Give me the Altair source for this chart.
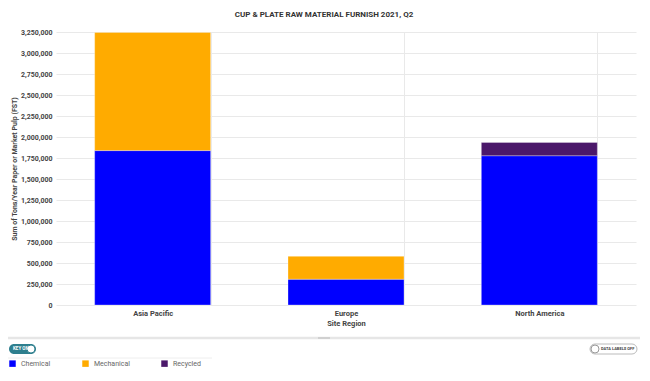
import altair as alt
import pandas as pd

regions = ["Asia Pacific", "Europe", "North America"]
chemical = [1838000, 307000, 1777000]
mechanical = [1407000, 272000, 0]
recycled = [0, 0, 158000]
furnish_types = ["Chemical", "Mechanical", "Recycled"]
furnish_colors = ["#0000FF", "#FFAB00", "#4B186A"]
y_ticks = list(range(0, 3250001, 250000))

rows = []
for i, r in enumerate(regions):
    for t, vals in zip(furnish_types, [chemical, mechanical, recycled]):
        if vals[i] > 0:
            rows.append({"Region": r, "Furnish": t, "Tons": vals[i]})
df = pd.DataFrame(rows)

W, H = 580, 273
LEFT, TOP, RIGHT = 48, 24, 4
TOTAL_W, TOTAL_H = 632, 362

bars = alt.Chart(df).mark_bar(stroke="#ffffff", strokeWidth=0.5, strokeOpacity=0.6).encode(
    x=alt.X("Region:N", sort=regions,
            scale=alt.Scale(paddingInner=0.4, paddingOuter=0.2),
            axis=alt.Axis(title="Site Region", labelAngle=0, grid=True, tickBand="extent",
                          domain=False, ticks=False, labelPadding=4, titlePadding=3)),
    y=alt.Y("Tons:Q", stack="zero",
            scale=alt.Scale(domain=[0, 3250000], nice=False),
            axis=alt.Axis(title="Sum of Tons/Year Paper or Market Pulp (FST)", values=y_ticks,
                          format=",.0f", domain=False, ticks=False, labelPadding=4, titlePadding=3)),
    color=alt.Color("Furnish:N", sort=furnish_types,
                    scale=alt.Scale(domain=furnish_types, range=furnish_colors),
                    legend=alt.Legend(title=None, orient="none", legendX=-LEFT + 1, legendY=328,
                                      direction="horizontal", symbolType="square", symbolSize=42,
                                      symbolStrokeWidth=0, labelFontSize=7, labelColor="#666666",
                                      labelFont="Roboto", columnPadding=31, labelOffset=5)),
    order=alt.Order("Furnish:N", sort="ascending"),
)

one = pd.DataFrame({"a": [0]})
base = alt.Chart(one)

separator = base.mark_rule(color="#e6e6e6", strokeWidth=2.5).encode(
    x=alt.value(-LEFT), x2=alt.value(TOTAL_W - LEFT), y=alt.value(306))
handle = base.mark_rule(color="#d0d0d0", strokeWidth=2).encode(
    x=alt.value(TOTAL_W / 2 - LEFT - 6), x2=alt.value(TOTAL_W / 2 - LEFT + 6), y=alt.value(306))
legend_line = base.mark_rule(color="#eeeeee", strokeWidth=1).encode(
    x=alt.value(-LEFT), x2=alt.value(156), y=alt.value(326))

key_pill = base.mark_rect(color="#2E7F8E", cornerRadius=5).encode(
    x=alt.value(-LEFT + 1), x2=alt.value(-LEFT + 28), y=alt.value(312), y2=alt.value(322))
key_knob = base.mark_circle(color="#ffffff", opacity=1, size=64, stroke="#2E7F8E", strokeWidth=1).encode(
    x=alt.value(-LEFT + 23), y=alt.value(317))
key_text = base.mark_text(text="KEY ON", fontSize=4.5, fontWeight="bold", color="#ffffff",
                          font="Roboto", align="left", baseline="middle").encode(
    x=alt.value(-LEFT + 5), y=alt.value(317))

dl_pill = base.mark_rect(color="#ffffff", stroke="#bbbbbb", strokeWidth=1, cornerRadius=5).encode(
    x=alt.value(W - 46), x2=alt.value(W + 1), y=alt.value(312), y2=alt.value(322))
dl_knob = base.mark_circle(color="#ffffff", opacity=1, size=64, stroke="#999999", strokeWidth=1).encode(
    x=alt.value(W - 41), y=alt.value(317))
dl_text = base.mark_text(text="DATA LABELS OFF", fontSize=4, fontWeight="bold", color="#444444",
                         font="Roboto", align="left", baseline="middle").encode(
    x=alt.value(W - 35), y=alt.value(317))

chart = alt.layer(
    bars, separator, handle, legend_line, key_pill, key_knob, key_text, dl_pill, dl_knob, dl_text
).properties(
    width=W, height=H,
    autosize=alt.AutoSizeParams(type="none"),
    padding={"left": LEFT, "top": TOP, "right": RIGHT, "bottom": TOTAL_H - TOP - H},
    title=alt.Title("CUP & PLATE RAW MATERIAL FURNISH 2021, Q2", fontSize=8, fontWeight="bold",
                    font="Roboto", color="#333333", anchor="middle", offset=9, dx=-22),
).configure_view(stroke=None).configure_axis(
    labelFont="Roboto", titleFont="Roboto", labelFontSize=7, titleFontSize=7,
    labelFontWeight="bold", titleFontWeight="bold", labelColor="#444444", titleColor="#444444",
    gridColor="#e9e9e9", gridWidth=1,
).configure_axisX(labelFontSize=7.5, titleFontSize=7.5)

chart.save("out.html", embed_options={"renderer": "svg", "actions": False})
